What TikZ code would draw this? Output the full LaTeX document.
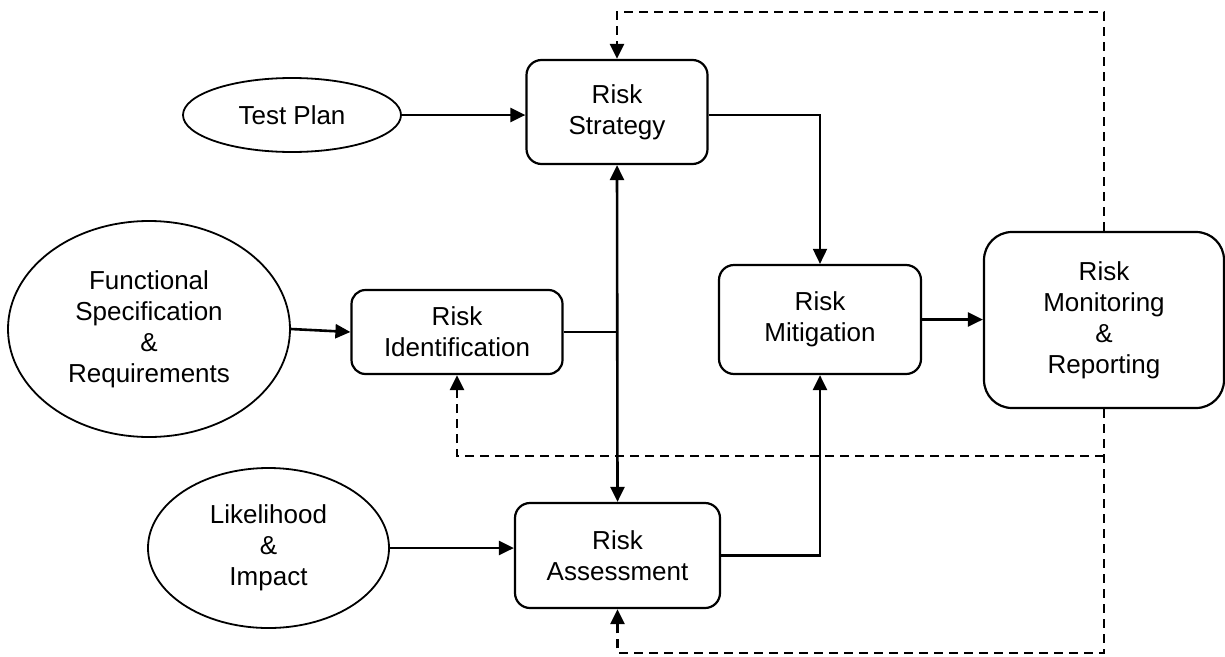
\documentclass[tikz,border=0pt]{standalone}
\usepackage{fontspec}
\setmainfont{Liberation Sans}
\usetikzlibrary{arrows.meta,shapes.geometric}
\tikzset{
  lbl/.style={align=center,font=\fontsize{26}{31}\selectfont,inner sep=0pt},
  rbox/.style={lbl,draw,line width=2.2pt,rounded corners=15pt,minimum width=#1},
  oval/.style={lbl,draw,ellipse,line width=1.8pt},
  tip/.style={-{Triangle[length=15pt,width=14pt]}},
  arr/.style={line width=2.6pt,tip},
  thin/.style={line width=1.8pt},
  dasharr/.style={line width=2.8pt,dash pattern=on 9pt off 6pt,tip},
}
\begin{document}
\begin{tikzpicture}[x=1pt,y=-1pt]
\useasboundingbox[fill=white] (0,0) rectangle (1225,656);
% nodes
\node[rbox=181pt,minimum height=104pt] (strat) at (617,112) {Risk\\Strategy};
\node[rbox=211pt,minimum height=84pt,rounded corners=14pt] (ident) at (457,332) {Risk\\Identification};
\node[rbox=202pt,minimum height=109pt] (mitig) at (820,319.5) {Risk\\Mitigation};
\node[rbox=240pt,minimum height=176pt,rounded corners=28pt] (monit) at (1104,320) {Risk\\Monitoring\\\&\\Reporting};
\node[rbox=205pt,minimum height=105pt] (assess) at (617.5,555.5) {Risk\\Assessment};
\node[oval,minimum width=218pt,minimum height=74pt] (test) at (292,115) {Test Plan};
\node[oval,minimum width=282pt,minimum height=216pt] (func) at (149,329) {Functional\\Specification\\\&\\Requirements};
\node[oval,minimum width=241pt,minimum height=160pt] (like) at (268.5,548) {Likelihood\\\&\\Impact};
% helper coordinates
\coordinate (topy) at (0,12);
\coordinate (midy) at (0,456);
\coordinate (boty) at (0,653);
% solid connectors
\draw[arr] (test.east) -- (strat.west |- test.east);
\draw[arr] (func.east) -- (ident.west);
\draw[thin] (ident.east) -- (ident.east -| strat.south);
\draw[line width=2.6pt,{Triangle[length=15pt,width=14pt]}-{Triangle[length=15pt,width=14pt]}] (strat.south) -- (assess.north);
\draw[thin,tip] ([yshift=-3pt]strat.east) -| (mitig.north);
\draw[arr] (assess.east) -| (mitig.south);
\draw[arr] (mitig.east) -- (monit.west |- mitig.east);
\draw[arr] (like.east) -- (assess.west |- like.east);
% dashed feedback
\draw[dasharr] (monit.north) -- (monit.north |- topy) -| (strat.north);
\draw[dasharr] (monit.south) -- (monit.south |- boty) -| (assess.south);
\draw[dasharr] (monit.south |- midy) -| (ident.south);
\end{tikzpicture}
\end{document}
